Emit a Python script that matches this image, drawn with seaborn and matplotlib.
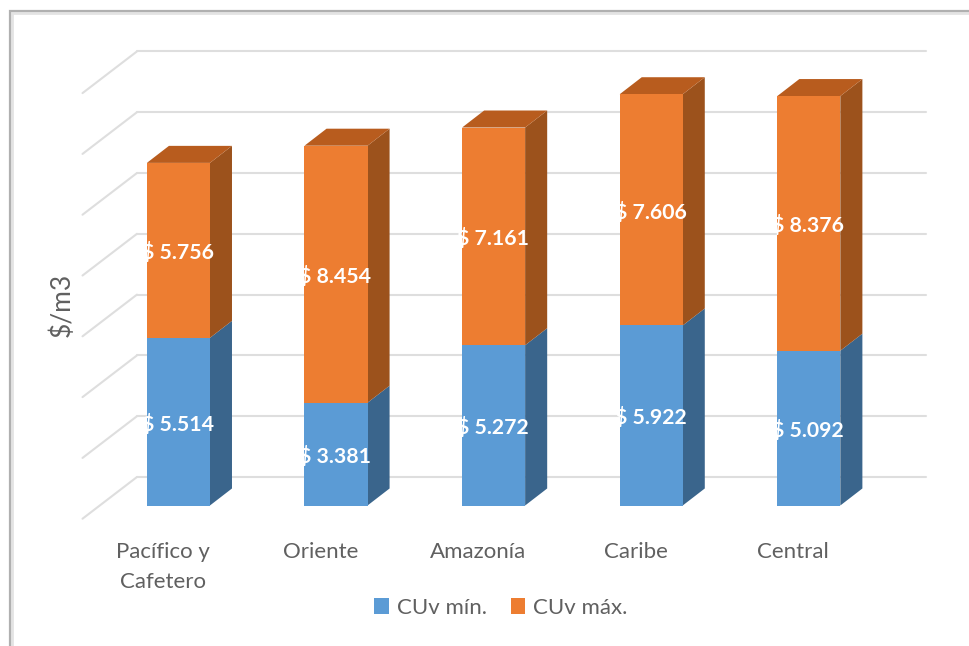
import matplotlib
matplotlib.use("Agg")
import matplotlib.pyplot as plt
from matplotlib.lines import Line2D
from matplotlib.patches import Polygon
import numpy as np
import pandas as pd
import seaborn as sns

categories = ["Pacífico y\nCafetero", "Oriente", "Amazonía", "Caribe", "Central"]
cuv_min = [5514, 3381, 5272, 5922, 5092]
cuv_max = [5756, 8454, 7161, 7606, 8376]
grid_values = [0, 2000, 4000, 6000, 8000, 10000, 12000, 14000]

W, H = 969, 646
TEXT = "#606060"

sns.set_theme(style="white")
plt.rcParams["font.family"] = ["Lato", "DejaVu Sans"]

data = pd.DataFrame({"region": categories, "min": cuv_min, "max": cuv_max})

fig = plt.figure(figsize=(W / 100, H / 100), dpi=100)
# axes box in pixels: one category is 157.6 px wide, 2000 units are 60.8 px
ax = fig.add_axes([99.6 / W, (H - 505.5) / H, 788 / W, 425.6 / H])

sns.barplot(data, x="region", y="min", color="#5B9BD5", saturation=1, width=0.4,
            label="CUv mín.", ax=ax, zorder=3, linewidth=0, legend=False)
sns.barplot(data, x="region", y="max", bottom=data["min"], color="#ED7D31", saturation=1,
            width=0.4, label="CUv máx.", ax=ax, zorder=3, linewidth=0, legend=False)
ax.set_xlim(-0.5, 4.5)
ax.set_ylim(0, 14000)
handles, labels = ax.get_legend_handles_labels()
if ax.get_legend() is not None:
    ax.get_legend().remove()

# fake 3D: depth of the bars, in data units
depth_x = 0.14
depth_y = 560
side_colors = ["#3A658C", "#9C521C"]
for container, side in zip(ax.containers, side_colors):
    for bar in container:
        x1 = bar.get_x() + bar.get_width()
        y0, y1 = bar.get_y(), bar.get_y() + bar.get_height()
        ax.add_patch(Polygon([(x1, y0), (x1 + depth_x, y0 + depth_y),
                              (x1 + depth_x, y1 + depth_y), (x1, y1)],
                             fc=side, ec="none", zorder=2, clip_on=False))
for bar in ax.containers[1]:
    x0, x1 = bar.get_x(), bar.get_x() + bar.get_width()
    y1 = bar.get_y() + bar.get_height()
    ax.add_patch(Polygon([(x0, y1), (x1, y1), (x1 + depth_x, y1 + depth_y),
                          (x0 + depth_x, y1 + depth_y)],
                         fc="#B85C1E", ec="none", zorder=2, clip_on=False))

# back wall gridlines and the diagonals on the left side wall
wall_y = 937
for v in grid_values:
    ax.plot([-0.263, 4.744], [v + wall_y, v + wall_y], color="#DEDEDE", lw=1.5,
            zorder=1, clip_on=False)
    ax.plot([-0.6085, -0.263], [v + wall_y - 1372, v + wall_y], color="#DEDEDE", lw=1.5,
            zorder=1, clip_on=False)

for container, values in zip(ax.containers, [cuv_min, cuv_max]):
    labels_txt = ["$ " + f"{v:,}".replace(",", ".") for v in values]
    texts = ax.bar_label(container, labels=labels_txt, label_type="center", color="white",
                         fontweight="bold", fontsize=15.3, zorder=5, parse_math=False)
    for t in texts:
        t.xyann = (-0.5, -1.8)

ax.set_xticks(np.arange(len(categories)) - 0.098, categories)
ax.tick_params(axis="x", length=0, pad=26.5, labelsize=16, labelcolor=TEXT)
for t in ax.get_xticklabels():
    t.set_linespacing(1.62)
ax.set_yticks([])
ax.set(xlabel=None, ylabel=None)
sns.despine(ax=ax, left=True, bottom=True)
fig.text(62 / W, 1 - 305 / H, "\\$/m3", rotation=90, ha="center", va="center",
         fontsize=19, color=TEXT)

fig.legend(handles, labels, loc="center", bbox_to_anchor=(501 / W, 1 - 607.5 / H),
           ncol=2, frameon=False, fontsize=16, labelcolor=TEXT, handlelength=0.65,
           handleheight=0.7, handletextpad=0.35, columnspacing=1.1)

# screenshot border, top and left only
for color, lw, off in [("#E3E3E3", 2.0, 2.0), ("#B0B0B0", 1.6, 0.0)]:
    fig.add_artist(Line2D([(10 + off) / W, (10 + off) / W, 1], [0, 1 - (11 + off) / H, 1 - (11 + off) / H],
                          color=color, lw=lw, solid_joinstyle="miter"))

fig.savefig("out.png", dpi=100)
